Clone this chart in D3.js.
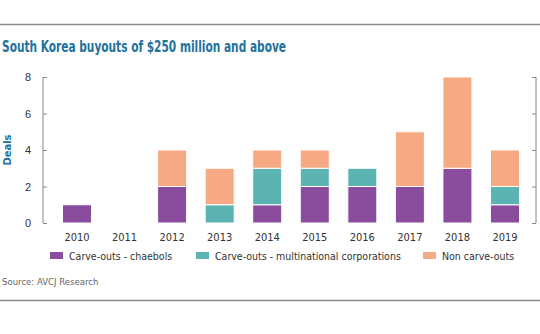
<!DOCTYPE html>
<html>
<head>
  <script src="https://d3js.org/d3.v7.min.js"></script>
  <style>
    body { margin: 0; background: #fff; }
    svg { display: block; font-family: 'DejaVu Sans Condensed', 'DejaVu Sans', sans-serif; }
  </style>
</head>
<body>
  <div id="chart"></div>
  <script>
    // data
    const years = ["2010", "2011", "2012", "2013", "2014", "2015", "2016", "2017", "2018", "2019"];
    const chaebols = [1, 0, 2, 0, 1, 2, 2, 2, 3, 1];
    const multinationals = [0, 0, 0, 1, 2, 1, 1, 0, 0, 1];
    const nonCarveOuts = [0, 0, 2, 2, 1, 1, 0, 3, 5, 2];
    const yTicks = [0, 2, 4, 6, 8];
    const seriesNames = ["Carve-outs - chaebols", "Carve-outs - multinational corporations", "Non carve-outs"];
    const colors = ["#8a4c9c", "#5bb3b2", "#f6a983"];

    const W = 540, H = 334;
    const svg = d3.select("#chart").append("svg").attr("width", W).attr("height", H);

    // rules top and bottom
    svg.append("line").attr("x1", 0).attr("x2", W).attr("y1", 24.5).attr("y2", 24.5)
      .attr("stroke", "#8a8a8a").attr("stroke-width", 1.5);
    svg.append("line").attr("x1", 0).attr("x2", W).attr("y1", 300.5).attr("y2", 300.5)
      .attr("stroke", "#8a8a8a").attr("stroke-width", 1.5);

    svg.append("text").attr("x", 2).attr("y", 52)
      .attr("fill", "#22729c").attr("font-size", 15).attr("font-weight", "bold")
      .attr("textLength", 284).attr("lengthAdjust", "spacingAndGlyphs")
      .text("South Korea buyouts of $250 million and above");

    const axisLeftX = 43, axisRightX = 536;
    const y = d3.scaleLinear().domain([0, 8]).range([223, 77]);
    const x = d3.scaleBand().domain(years).range([53, 529]).paddingInner(0.39).paddingOuter(0.2);

    const table = years.map((yr, i) => ({ year: yr, c: chaebols[i], m: multinationals[i], n: nonCarveOuts[i] }));
    const stacked = d3.stack().keys(["c", "m", "n"])(table);

    svg.append("g").selectAll("g").data(stacked).join("g")
      .attr("fill", (d, i) => colors[i])
      .selectAll("rect").data(d => d.filter(p => p[1] > p[0])).join("rect")
      .attr("x", d => x(d.data.year))
      .attr("width", x.bandwidth())
      .attr("y", d => y(d[1]))
      .attr("height", d => y(d[0]) - y(d[1]))
      .attr("stroke", "#fff").attr("stroke-width", 1);

    // left axis
    const gl = svg.append("g").attr("transform", `translate(${axisLeftX},0)`);
    gl.call(d3.axisRight(y).tickValues(yTicks).tickSize(4).tickFormat(""));
    gl.selectAll("path, line").attr("stroke", "#888");
    gl.select(".domain").attr("d", `M0,${y(8)}V${y(0)}`);
    gl.selectAll(".lbl").data(yTicks).join("text")
      .attr("x", -12).attr("y", d => y(d) + 4)
      .attr("text-anchor", "end").attr("font-size", 11).attr("fill", "#333")
      .text(d => d);

    // right axis
    const gr = svg.append("g").attr("transform", `translate(${axisRightX},0)`);
    gr.call(d3.axisLeft(y).tickValues(yTicks).tickSize(4).tickFormat(""));
    gr.selectAll("path, line").attr("stroke", "#888");
    gr.select(".domain").attr("d", `M0,${y(8)}V${y(0)}`);

    svg.append("text")
      .attr("transform", `translate(11,150) rotate(-90)`)
      .attr("text-anchor", "middle").attr("font-size", 11).attr("font-weight", "bold")
      .attr("fill", "#22729c").text("Deals");

    // x labels
    svg.append("g").selectAll("text").data(years).join("text")
      .attr("x", d => x(d) + x.bandwidth() / 2).attr("y", 241)
      .attr("text-anchor", "middle").attr("font-size", 11).attr("fill", "#333")
      .text(d => d);

    // legend
    const legendX = [50, 196, 423];
    const lg = svg.append("g").selectAll("g").data(seriesNames).join("g")
      .attr("transform", (d, i) => `translate(${legendX[i]},252)`);
    lg.append("rect").attr("width", 13).attr("height", 7).attr("fill", (d, i) => colors[i]);
    lg.append("text").attr("x", 19).attr("y", 8).attr("font-size", 10.5).attr("fill", "#333").text(d => d);

    svg.append("text").attr("x", 2).attr("y", 285).attr("font-size", 9.5).attr("fill", "#666")
      .text("Source: AVCJ Research");
  </script>
</body>
</html>
